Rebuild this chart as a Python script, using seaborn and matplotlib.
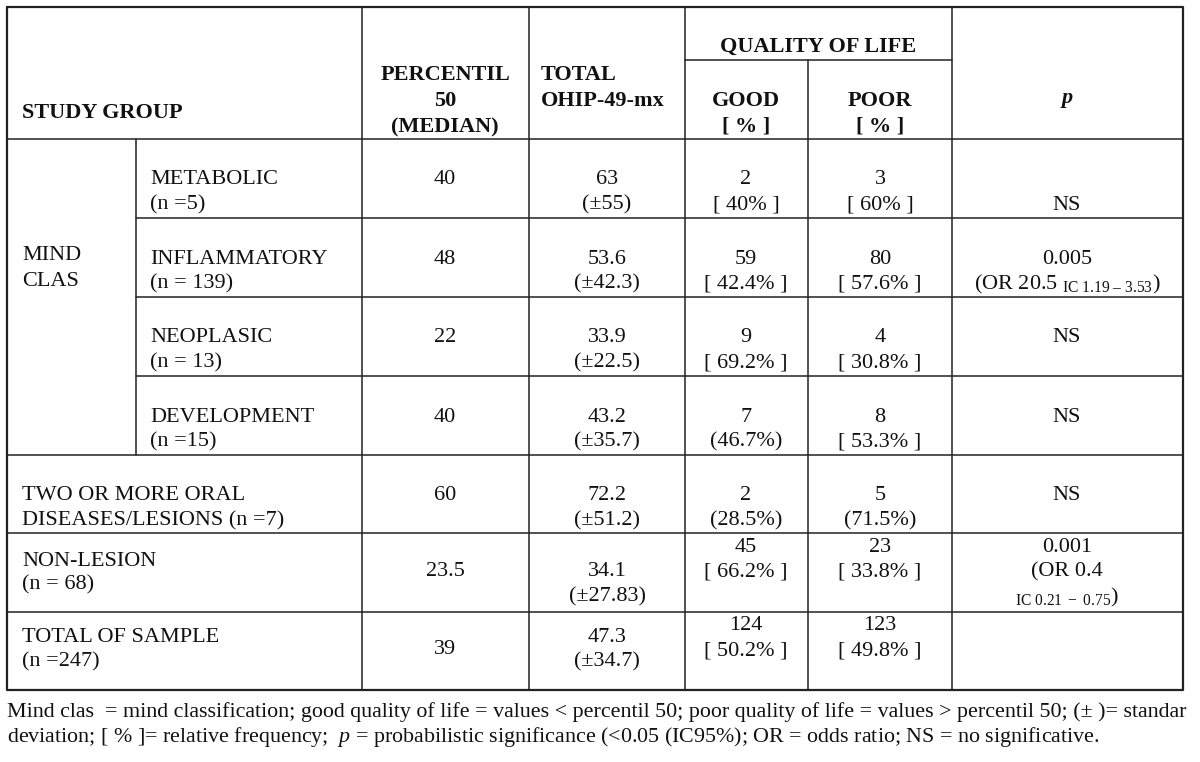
import matplotlib
matplotlib.use("Agg")
import matplotlib.pyplot as plt
import seaborn as sns

sns.set_theme(style="white")
plt.rcParams['font.family'] = ['Liberation Serif', 'DejaVu Serif']
plt.rcParams['mathtext.fontset'] = 'custom'
plt.rcParams['mathtext.rm'] = 'Liberation Serif'
plt.rcParams['mathtext.it'] = 'Liberation Serif:italic'
plt.rcParams['mathtext.bf'] = 'Liberation Serif:bold'

# table content
group_name = ["METABOLIC", "INFLAMMATORY", "NEOPLASIC", "DEVELOPMENT",
              "TWO OR MORE ORAL", "NON-LESION", "TOTAL OF SAMPLE"]
group_n = ["(n =5)", "(n = 139)", "(n = 13)", "(n =15)",
           "DISEASES/LESIONS (n =7)", "(n = 68)", "(n =247)"]
median = ["40", "48", "22", "40", "60", "23.5", "39"]
ohip_mean = ["63", "53.6", "33.9", "43.2", "72.2", "34.1", "47.3"]
ohip_sd = ["(±55)", "(±42.3)", "(±22.5)", "(±35.7)", "(±51.2)", "(±27.83)", "(±34.7)"]
good_n = ["2", "59", "9", "7", "2", "45", "124"]
good_pct = ["[ 40% ]", "[ 42.4% ]", "[ 69.2% ]", "(46.7%)", "(28.5%)", "[ 66.2% ]", "[ 50.2% ]"]
poor_n = ["3", "80", "4", "8", "5", "23", "123"]
poor_pct = ["[ 60% ]", "[ 57.6% ]", "[ 30.8% ]", "[ 53.3% ]", "(71.5%)", "[ 33.8% ]", "[ 49.8% ]"]
p_value = [["NS"],
           ["0.005", r"(OR 20.5 $_{\mathrm{IC\ 1.19\ –\ 3.53}}$)"],
           ["NS"], ["NS"], ["NS"],
           ["0.001", "(OR 0.4", r"$_{\mathrm{IC\ 0.21\ -\ 0.75}}$)"],
           []]
mind_label = ["MIND", "CLAS"]
footnote = [
    "Mind clas  = mind classification; good quality of life = values < percentil 50; "
    "poor quality of life = values > percentil 50; (± )= standar",
    r"deviation; [ % ]= relative frequency;  $p$ = probabilistic significance (<0.05 (IC95%); "
    "OR = odds ratio; NS = no significative.",
]

# layout (pixels)
L, R, T, B = 7, 1183, 7, 690
col_x = [136, 362, 529, 685, 808, 952]
head_b = 139
row_top = [139, 218, 297, 376, 455, 533, 612]
fs = 16
lc = "#222222"

fig = plt.figure(figsize=(12, 7.62), dpi=100)
ax = fig.add_axes([0, 0, 1, 1])
ax.set_xlim(0, 1200)
ax.set_ylim(762, 0)
ax.axis("off")

# grid lines
ax.plot([L, R, R, L, L], [T, T, B, B, T], color=lc, lw=1.6)
for x in col_x[1:]:
    y0 = 60 if x == 808 else T
    ax.plot([x, x], [y0, B], color=lc, lw=1.1)
ax.plot([136, 136], [head_b, 455], color=lc, lw=1.1)
ax.plot([685, 952], [60, 60], color=lc, lw=1.1)
ax.plot([L, R], [head_b, head_b], color=lc, lw=1.1)
for i, y in enumerate(row_top[1:], start=1):
    x0 = 136 if i < 4 else L
    ax.plot([x0, R], [y, y], color=lc, lw=1.1)


def put(x, y, s, ha="center", **kw):
    ax.text(x, y, s, ha=ha, va="center", fontsize=kw.pop("size", fs), color="#111111", **kw)


# header
put(22, 113, "STUDY GROUP", ha="left", weight="bold")
for k, s in enumerate(["PERCENTIL", "50", "(MEDIAN)"]):
    put(445, 75 + 26 * k, s, weight="bold")
put(541, 75, "TOTAL", ha="left", weight="bold")
put(541, 101, "OHIP-49-mx", ha="left", weight="bold")
put(818, 47, "QUALITY OF LIFE", weight="bold")
put(746, 101, "GOOD", weight="bold")
put(746, 127, "[ % ]", weight="bold")
put(880, 101, "POOR", weight="bold")
put(880, 127, "[ % ]", weight="bold")
put(1067, 98, "p", weight="bold", style="italic")

put(22, 256, mind_label[0], ha="left")
put(22, 282, mind_label[1], ha="left")

centers = [445, 607, 746, 880, 1067]
for i, top in enumerate(row_top):
    gx = 150 if i < 4 else 22
    if i < 5:
        g_off, med_off, oh_off, q_off = (41, 66), 41, (41, 66), (41, 66)
    elif i == 5:
        g_off, med_off, oh_off, q_off = (28, 52), 39, (39, 64), (15, 39)
    else:
        g_off, med_off, oh_off, q_off = (25, 50), 38, (25, 50), (14, 39)
    put(gx, top + g_off[0], group_name[i], ha="left")
    put(gx, top + g_off[1], group_n[i], ha="left")
    put(centers[0], top + med_off, median[i])
    put(centers[1], top + oh_off[0], ohip_mean[i])
    put(centers[1], top + oh_off[1], ohip_sd[i])
    put(centers[2], top + q_off[0], good_n[i])
    put(centers[2], top + q_off[1], good_pct[i])
    put(centers[3], top + q_off[0], poor_n[i])
    put(centers[3], top + q_off[1], poor_pct[i])
    lines = p_value[i]
    if i == 0:
        offs = [67]
    elif i == 5:
        offs = [15, 39, 64]
    else:
        offs = [41, 66]
    for s, o in zip(lines, offs):
        put(centers[4], top + o, s)

# footnote, sized to span the table width
t1 = ax.text(L, 712, footnote[0], ha="left", va="center", fontsize=13, color="#111111")
fig.canvas.draw()
w = t1.get_window_extent().width
fsize = 13 * (R - L) / w
t1.set_fontsize(fsize)
ax.text(L, 737, footnote[1], ha="left", va="center", fontsize=fsize, color="#111111")

fig.savefig("out.png", dpi=100, facecolor="white")
